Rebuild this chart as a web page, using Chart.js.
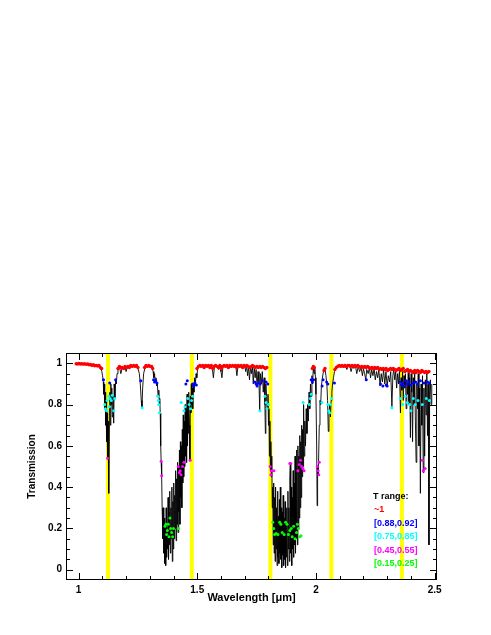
<!DOCTYPE html>
<html>
<head>
<meta charset="utf-8">
<script src="https://cdn.jsdelivr.net/npm/chart.js@4.4.1/dist/chart.umd.min.js"></script>
<style>
  html, body { margin: 0; padding: 0; background: #ffffff; }
  #chart { display: block; }
</style>
</head>
<body>
<canvas id="chart" width="491" height="635"></canvas>
<script>
// atmospheric transmission spectrum, [wavelength um, transmission]
const spectrum = [
  [0.988,0.997],[0.995,0.998],[1.005,0.997],[1.015,0.996],[1.025,0.997],[1.035,0.995],[1.045,0.993],[1.055,0.99],
  [1.065,0.992],[1.072,0.986],[1.08,0.99],[1.087,0.983],[1.093,0.975],[1.098,0.96],
  [1.101,0.94],[1.104,0.91],[1.106,0.85],[1.108,0.9],[1.11,0.78],[1.112,0.86],[1.114,0.7],[1.116,0.82],[1.118,0.62],
  [1.12,0.76],[1.122,0.54],[1.124,0.72],[1.126,0.6],[1.128,0.37],[1.13,0.78],[1.132,0.86],[1.134,0.7],[1.136,0.9],
  [1.138,0.8],[1.14,0.88],[1.142,0.74],[1.145,0.84],[1.148,0.71],[1.15,0.9],[1.153,0.83],[1.156,0.92],[1.159,0.9],[1.162,0.95],
  [1.166,0.97],[1.172,0.985],[1.178,0.95],[1.184,0.98],[1.19,0.97],[1.196,0.985],[1.2,0.96],[1.206,0.985],[1.212,0.98],
  [1.22,0.99],[1.228,0.985],[1.235,0.99],[1.242,0.985],[1.25,0.975],[1.256,0.95],[1.26,0.9],[1.264,0.82],[1.267,0.785],
  [1.27,0.88],[1.274,0.95],[1.28,0.98],[1.286,0.99],[1.292,0.985],[1.298,0.99],[1.304,0.985],[1.31,0.975],
  [1.314,0.96],[1.317,0.93],[1.32,0.95],[1.323,0.91],[1.326,0.93],[1.329,0.89],[1.332,0.9],[1.335,0.84],[1.338,0.87],
  [1.34,0.8],[1.342,0.83],[1.344,0.76],[1.346,0.6],[1.348,0.52],[1.35,0.455],[1.352,0.3],
  [1.355,0.15],[1.357,0.3],[1.359,0.08],[1.361,0.25],[1.363,0.03],[1.365,0.22],[1.367,0.02],[1.369,0.3],[1.371,0.06],
  [1.373,0.18],[1.375,0.1],[1.377,0.35],[1.379,0.05],[1.381,0.28],[1.383,0.12],[1.385,0.38],[1.387,0.08],[1.389,0.3],
  [1.391,0.15],[1.393,0.4],[1.395,0.04],[1.397,0.33],[1.399,0.1],[1.401,0.42],[1.403,0.15],[1.405,0.36],[1.407,0.2],
  [1.409,0.48],[1.411,0.14],[1.413,0.44],[1.415,0.22],[1.417,0.52],[1.419,0.18],[1.421,0.5],[1.423,0.28],[1.425,0.58],
  [1.427,0.22],[1.429,0.62],[1.431,0.35],[1.433,0.6],[1.435,0.3],[1.437,0.68],[1.439,0.42],[1.441,0.75],[1.443,0.45],
  [1.445,0.72],[1.447,0.5],[1.449,0.8],[1.451,0.55],[1.453,0.78],[1.455,0.52],[1.457,0.85],[1.459,0.6],[1.461,0.82],
  [1.463,0.66],[1.465,0.86],[1.467,0.7],[1.469,0.53],[1.471,0.84],[1.473,0.76],[1.475,0.9],[1.477,0.8],[1.479,0.88],
  [1.481,0.78],[1.483,0.9],[1.486,0.86],[1.489,0.93],[1.492,0.9],[1.495,0.95],[1.498,0.93],[1.501,0.97],[1.504,0.98],
  [1.51,0.99],[1.516,0.985],[1.522,0.99],[1.528,0.98],[1.534,0.99],[1.54,0.985],[1.546,0.99],[1.552,0.98],[1.558,0.99],
  [1.564,0.97],[1.568,0.93],[1.572,0.98],[1.578,0.99],[1.584,0.985],[1.59,0.97],[1.596,0.99],[1.6,0.96],[1.604,0.93],
  [1.608,0.98],[1.614,0.99],[1.62,0.985],[1.626,0.99],[1.632,0.975],[1.638,0.99],[1.644,0.985],[1.65,0.99],[1.656,0.985],
  [1.662,0.99],[1.667,0.94],[1.672,0.99],[1.678,0.985],[1.684,0.99],[1.69,0.98],[1.696,0.99],[1.7,0.985],
  [1.704,0.96],[1.708,0.99],[1.712,0.94],[1.716,0.985],[1.72,0.92],[1.724,0.98],[1.728,0.95],[1.732,0.99],[1.736,0.9],
  [1.74,0.98],[1.744,0.93],[1.748,0.97],[1.752,0.89],[1.756,0.96],[1.76,0.91],[1.763,0.77],[1.766,0.95],[1.77,0.9],
  [1.774,0.96],[1.778,0.86],[1.782,0.93],[1.785,0.8],[1.787,0.66],[1.789,0.9],[1.792,0.84],[1.795,0.78],[1.798,0.85],
  [1.8,0.7],[1.802,0.78],[1.804,0.55],[1.806,0.72],[1.808,0.48],[1.81,0.62],[1.812,0.45],[1.814,0.55],[1.816,0.3],
  [1.818,0.4],[1.82,0.12],[1.822,0.42],[1.824,0.08],[1.826,0.35],[1.828,0.04],[1.83,0.4],[1.832,0.1],[1.834,0.3],
  [1.836,0.02],[1.838,0.38],[1.84,0.06],[1.842,0.26],[1.844,0.03],[1.846,0.34],[1.848,0.08],[1.85,0.4],[1.852,0.05],
  [1.854,0.3],[1.856,0.01],[1.858,0.28],[1.86,0.07],[1.862,0.36],[1.864,0.02],[1.866,0.25],[1.868,0.05],[1.87,0.33],
  [1.872,0.01],[1.874,0.22],[1.876,0.06],[1.878,0.3],[1.88,0.02],[1.882,0.38],[1.884,0.1],[1.886,0.3],[1.888,0.04],
  [1.89,0.45],[1.892,0.51],[1.894,0.08],[1.896,0.4],[1.898,0.02],[1.9,0.35],[1.902,0.1],[1.904,0.48],[1.906,0.06],
  [1.908,0.42],[1.91,0.12],[1.912,0.55],[1.914,0.08],[1.916,0.5],[1.918,0.15],[1.92,0.58],[1.922,0.12],[1.924,0.6],
  [1.926,0.2],[1.928,0.55],[1.93,0.25],[1.932,0.65],[1.934,0.3],[1.936,0.62],[1.938,0.35],[1.94,0.7],[1.942,0.45],
  [1.944,0.68],[1.946,0.5],[1.948,0.8],[1.95,0.55],
  [1.953,0.72],[1.956,0.6],[1.959,0.78],[1.962,0.66],[1.965,0.8],[1.968,0.72],[1.971,0.86],[1.974,0.78],[1.977,0.9],
  [1.98,0.84],[1.983,0.94],[1.986,0.9],[1.989,0.98],[1.992,0.95],[1.995,0.98],[1.998,0.93],[2.0,0.85],[2.003,0.6],
  [2.005,0.31],[2.007,0.5],[2.009,0.46],[2.011,0.52],[2.014,0.7],[2.017,0.82],[2.02,0.8],[2.023,0.89],[2.026,0.92],
  [2.03,0.95],[2.034,0.97],[2.038,0.975],[2.042,0.94],[2.046,0.9],[2.049,0.82],[2.052,0.67],[2.055,0.76],[2.058,0.8],
  [2.061,0.74],[2.064,0.82],[2.067,0.86],[2.07,0.9],[2.074,0.93],[2.078,0.96],[2.083,0.975],[2.088,0.98],[2.094,0.985],[2.1,0.99],
  [2.106,0.985],[2.112,0.99],[2.118,0.98],[2.124,0.99],[2.13,0.97],[2.136,0.985],[2.142,0.99],[2.148,0.96],[2.154,0.985],
  [2.16,0.975],[2.166,0.99],[2.172,0.95],[2.178,0.985],[2.184,0.96],[2.19,0.98],[2.196,0.94],[2.2,0.975],[2.205,0.95],
  [2.21,0.92],[2.214,0.97],[2.22,0.95],[2.225,0.98],[2.23,0.93],[2.235,0.97],[2.24,0.94],[2.245,0.975],[2.25,0.92],
  [2.255,0.96],[2.26,0.93],[2.265,0.97],[2.27,0.89],[2.275,0.95],[2.28,0.91],[2.285,0.97],[2.29,0.9],[2.295,0.96],
  [2.3,0.89],[2.305,0.94],[2.31,0.91],[2.315,0.96],[2.32,0.79],[2.324,0.94],[2.328,0.97],
  [2.332,0.92],[2.336,0.96],[2.34,0.88],[2.344,0.95],[2.348,0.9],[2.352,0.97],[2.356,0.76],[2.359,0.93],[2.362,0.87],
  [2.365,0.96],[2.368,0.82],[2.371,0.94],[2.374,0.88],[2.377,0.95],[2.38,0.78],[2.383,0.92],[2.386,0.85],[2.389,0.96],
  [2.392,0.8],[2.395,0.93],[2.398,0.64],[2.401,0.95],[2.404,0.86],[2.407,0.62],[2.41,0.93],[2.413,0.8],[2.416,0.96],
  [2.419,0.72],[2.422,0.52],[2.425,0.9],[2.428,0.78],[2.431,0.95],[2.434,0.6],[2.437,0.88],[2.44,0.37],[2.443,0.9],
  [2.446,0.7],[2.449,0.94],[2.452,0.47],[2.455,0.88],[2.458,0.55],[2.461,0.92],[2.464,0.75],[2.467,0.95],[2.47,0.65],
  [2.473,0.9],[2.476,0.12],[2.479,0.85],[2.482,0.92],[2.485,0.8],[2.488,0.9]
];

// points picked out by transmission range
const pointsNear1 = [
  [0.99,0.998],[0.996,0.997],[1.002,0.999],[1.008,0.997],[1.014,0.998],[1.02,0.996],[1.026,0.998],[1.032,0.995],
  [1.038,0.997],[1.044,0.993],[1.05,0.995],[1.056,0.99],[1.062,0.993],[1.068,0.988],[1.074,0.99],[1.08,0.987],
  [1.086,0.99],[1.092,0.98],[1.097,0.975],
  [1.166,0.975],[1.172,0.985],[1.178,0.98],[1.184,0.98],[1.19,0.975],[1.196,0.985],[1.202,0.98],[1.208,0.985],
  [1.214,0.98],[1.22,0.99],[1.226,0.985],[1.232,0.99],[1.238,0.985],[1.244,0.99],[1.25,0.98],
  [1.278,0.98],[1.284,0.99],[1.29,0.985],[1.296,0.99],[1.302,0.985],[1.308,0.985],[1.312,0.975],
  [1.499,0.975],[1.505,0.985],[1.511,0.99],[1.517,0.985],[1.523,0.99],[1.529,0.98],[1.535,0.99],[1.541,0.985],
  [1.547,0.99],[1.553,0.98],[1.559,0.99],[1.565,0.975],[1.571,0.985],[1.577,0.99],[1.583,0.985],[1.589,0.98],
  [1.595,0.99],[1.601,0.975],[1.607,0.985],[1.613,0.99],[1.619,0.985],[1.625,0.99],[1.631,0.98],[1.637,0.99],
  [1.643,0.985],[1.649,0.99],[1.655,0.985],[1.661,0.99],[1.667,0.98],[1.673,0.99],[1.679,0.985],[1.685,0.99],
  [1.691,0.98],[1.697,0.99],[1.703,0.985],[1.709,0.99],[1.715,0.985],[1.721,0.98],[1.727,0.985],[1.733,0.99],
  [1.739,0.985],[1.745,0.98],[1.751,0.985],[1.757,0.98],[1.763,0.985],[1.769,0.98],[1.775,0.985],[1.781,0.98],
  [1.787,0.975],[1.793,0.98],
  [1.985,0.975],[1.989,0.985],[1.993,0.98],[2.034,0.965],[2.038,0.975],
  [2.08,0.97],[2.086,0.98],[2.092,0.985],[2.098,0.99],[2.104,0.985],[2.11,0.99],[2.116,0.985],[2.122,0.99],
  [2.128,0.985],[2.134,0.99],[2.14,0.99],[2.146,0.985],[2.152,0.99],[2.158,0.985],[2.164,0.99],[2.17,0.985],
  [2.176,0.99],[2.182,0.985],[2.188,0.98],[2.194,0.985],[2.2,0.98],[2.206,0.985],[2.212,0.98],[2.218,0.985],
  [2.224,0.98],[2.23,0.975],[2.236,0.98],[2.242,0.975],[2.248,0.98],[2.254,0.975],[2.26,0.98],[2.266,0.97],
  [2.272,0.975],[2.278,0.97],[2.284,0.975],[2.29,0.97],[2.296,0.975],[2.302,0.965],[2.308,0.97],[2.314,0.975],
  [2.32,0.97],[2.326,0.975],[2.332,0.97],[2.338,0.965],[2.344,0.97],[2.35,0.975],[2.356,0.965],[2.362,0.97],
  [2.368,0.975],[2.374,0.96],[2.38,0.965],[2.386,0.97],[2.392,0.96],[2.398,0.965],[2.404,0.96],[2.41,0.955],
  [2.416,0.965],[2.422,0.955],[2.428,0.965],[2.434,0.96],[2.44,0.955],[2.446,0.965],[2.452,0.96],[2.458,0.955],
  [2.464,0.96],[2.47,0.955],[2.476,0.96]
];
const points088 = [
  [1.105,0.92],[1.131,0.905],[1.156,0.92],[1.262,0.915],[1.316,0.92],[1.32,0.91],[1.325,0.915],[1.33,0.905],
  [1.452,0.9],[1.458,0.915],[1.48,0.9],[1.484,0.89],[1.49,0.905],[1.496,0.895],[1.742,0.91],[1.748,0.9],
  [1.752,0.89],[1.758,0.905],[1.765,0.9],[1.774,0.915],[1.79,0.91],[1.797,0.9],[1.98,0.92],[1.985,0.91],
  [1.99,0.92],[2.026,0.89],[2.03,0.92],[2.045,0.91],[2.05,0.9],[2.078,0.905],[2.212,0.92],[2.272,0.9],
  [2.282,0.89],[2.296,0.895],[2.3,0.89],[2.355,0.91],[2.36,0.895],[2.364,0.905],[2.37,0.89],[2.378,0.915],
  [2.385,0.9],[2.392,0.91],[2.4,0.895],[2.41,0.905],[2.42,0.91],[2.428,0.9],[2.44,0.915],[2.455,0.905],
  [2.47,0.91],[2.478,0.905]
];
const points075 = [
  [1.11,0.8],[1.113,0.78],[1.118,0.77],[1.12,0.82],[1.127,0.84],[1.13,0.79],[1.133,0.83],[1.138,0.82],
  [1.142,0.845],[1.148,0.77],[1.152,0.83],[1.268,0.785],[1.333,0.84],[1.336,0.82],[1.338,0.8],[1.341,0.76],
  [1.432,0.81],[1.444,0.77],[1.448,0.79],[1.46,0.83],[1.466,0.8],[1.472,0.78],[1.476,0.82],[1.48,0.84],
  [1.764,0.77],[1.785,0.84],[1.79,0.81],[1.794,0.78],[1.8,0.8],[1.946,0.81],[1.972,0.8],[1.976,0.83],
  [1.98,0.85],[2.025,0.81],[2.05,0.8],[2.054,0.77],[2.058,0.76],[2.062,0.8],[2.066,0.83],[2.32,0.785],
  [2.355,0.83],[2.366,0.8],[2.376,0.84],[2.385,0.81],[2.395,0.8],[2.4,0.77],[2.41,0.83],[2.418,0.8],
  [2.43,0.82],[2.448,0.8],[2.465,0.83],[2.478,0.82]
];
const points045 = [
  [1.122,0.54],[1.348,0.525],[1.35,0.455],[1.42,0.5],[1.425,0.47],[1.428,0.48],[1.432,0.46],[1.438,0.5],
  [1.444,0.52],[1.47,0.53],[1.807,0.5],[1.81,0.46],[1.812,0.48],[1.823,0.48],[1.89,0.515],[1.894,0.515],
  [1.924,0.48],[1.93,0.51],[1.935,0.53],[1.94,0.5],[1.945,0.49],[1.95,0.48],[2.006,0.5],[2.009,0.48],
  [2.012,0.46],[2.014,0.52],[2.448,0.53],[2.452,0.48],[2.46,0.49]
];
const points015 = [
  [1.364,0.21],[1.368,0.22],[1.371,0.17],[1.374,0.19],[1.378,0.22],[1.381,0.16],[1.385,0.25],[1.388,0.2],
  [1.392,0.18],[1.396,0.16],[1.4,0.2],[1.42,0.2],
  [1.818,0.23],[1.822,0.2],[1.826,0.17],[1.832,0.175],[1.84,0.17],[1.847,0.23],[1.852,0.22],[1.858,0.18],
  [1.866,0.17],[1.872,0.23],[1.878,0.22],[1.884,0.17],[1.89,0.19],[1.896,0.2],[1.9,0.16],[1.906,0.21],
  [1.912,0.15],[1.918,0.18],[1.922,0.22],[1.926,0.2],[1.932,0.16],[1.937,0.165]
];

// yellow marker wavelengths
const markerLines = [1.124, 1.477, 1.808, 2.065, 2.362];

const legendTitle = 'T range:';
const legendLabels = ['~1', '[0.88,0.92]', '[0.75,0.85]', '[0.45,0.55]', '[0.15,0.25]'];
const legendColors = ['#ff0000', '#0000ff', '#00ffff', '#ff00ff', '#00ff00'];

const xTickValues = [1, 1.5, 2, 2.5];
const xTickLabels = ['1', '1.5', '2', '2.5'];
const yTickValues = [0, 0.2, 0.4, 0.6, 0.8, 1];
const yTickLabels = ['0', '0.2', '0.4', '0.6', '0.8', '1'];

const toXY = (arr) => arr.map(([x, y]) => ({ x, y }));
const labelFont = { family: 'Liberation Sans', size: 10, weight: 'bold' };

const markerPlugin = {
  id: 'markers',
  beforeDatasetsDraw(chart) {
    const { ctx, chartArea, scales } = chart;
    ctx.save();
    ctx.strokeStyle = '#ffff00';
    ctx.lineWidth = 4;
    markerLines.forEach((w) => {
      const px = scales.x.getPixelForValue(w);
      ctx.beginPath();
      ctx.moveTo(px, chartArea.top);
      ctx.lineTo(px, chartArea.bottom);
      ctx.stroke();
    });
    ctx.restore();
  }
};

const framePlugin = {
  id: 'frame',
  afterDraw(chart) {
    const { ctx, chartArea: a, scales } = chart;
    ctx.save();
    ctx.strokeStyle = '#000';
    ctx.lineWidth = 1;
    ctx.strokeRect(a.left + 0.5, a.top + 0.5, a.right - a.left - 1, a.bottom - a.top - 1);
    ctx.beginPath();
    for (let i = 10; i <= 25; i++) {
      const v = i / 10;
      const len = i % 5 === 0 ? 7 : 4;
      const px = Math.round(scales.x.getPixelForValue(v)) + 0.5;
      ctx.moveTo(px, a.bottom); ctx.lineTo(px, a.bottom - len);
      ctx.moveTo(px, a.top); ctx.lineTo(px, a.top + len);
    }
    for (let i = 0; i <= 21; i++) {
      const v = i * 0.05;
      const len = i % 4 === 0 ? 7 : 4;
      const py = Math.round(scales.y.getPixelForValue(v)) + 0.5;
      ctx.moveTo(a.left, py); ctx.lineTo(a.left + len, py);
      ctx.moveTo(a.right, py); ctx.lineTo(a.right - len, py);
    }
    ctx.stroke();

    // range legend inside the plot
    ctx.textAlign = 'left';
    ctx.textBaseline = 'middle';
    ctx.font = 'bold 9px "Liberation Sans"';
    ctx.fillStyle = '#000';
    ctx.fillText(legendTitle, 373, 497);
    legendLabels.forEach((label, i) => {
      ctx.fillStyle = legendColors[i];
      ctx.fillText(label, 374, 510 + i * 13.5);
    });
    ctx.restore();
  }
};

function pointSet(data, color, order, radius) {
  return {
    type: 'scatter',
    data: toXY(data),
    backgroundColor: color,
    borderColor: color,
    borderWidth: 0,
    pointRadius: radius,
    showLine: false,
    order
  };
}

new Chart(document.getElementById('chart'), {
  type: 'line',
  data: {
    datasets: [
      {
        data: toXY(spectrum),
        borderColor: 'rgba(0,0,0,0.9)',
        borderWidth: 1,
        pointRadius: 0,
        tension: 0,
        fill: false,
        order: 6
      },
      pointSet(pointsNear1, '#ff0000', 5, 1.7),
      pointSet(points088, '#0000ff', 4, 1.5),
      pointSet(points075, '#00ffff', 3, 1.5),
      pointSet(points045, '#ff00ff', 2, 1.5),
      pointSet(points015, '#00ff00', 1, 1.5)
    ]
  },
  options: {
    responsive: false,
    devicePixelRatio: 1,
    animation: false,
    layout: { padding: { left: 0, top: 353, right: 54, bottom: 0 } },
    plugins: { legend: { display: false }, tooltip: { enabled: false } },
    scales: {
      x: {
        type: 'linear',
        min: 0.947,
        max: 2.51,
        afterBuildTicks(scale) { scale.ticks = xTickValues.map((value) => ({ value })); },
        afterFit(scale) { scale.height = 55; },
        grid: { display: false, drawTicks: false },
        border: { display: false },
        ticks: {
          color: '#000',
          font: labelFont,
          padding: 4,
          maxRotation: 0,
          autoSkip: false,
          callback: (value) => xTickLabels[xTickValues.indexOf(value)]
        },
        title: {
          display: true,
          text: 'Wavelength [μm]',
          color: '#000',
          font: { family: 'Liberation Sans', size: 11, weight: 'bold' },
          padding: { top: 0, bottom: 30 }
        }
      },
      y: {
        type: 'linear',
        min: -0.05,
        max: 1.05,
        afterBuildTicks(scale) { scale.ticks = yTickValues.map((value) => ({ value })); },
        afterFit(scale) { scale.width = 66; },
        grid: { display: false, drawTicks: false },
        border: { display: false },
        ticks: {
          color: '#000',
          font: labelFont,
          padding: 4,
          autoSkip: false,
          callback: (value) => yTickLabels[yTickValues.indexOf(value)]
        },
        title: {
          display: true,
          text: 'Transmission',
          color: '#000',
          font: labelFont,
          padding: { top: 26, bottom: 0 }
        }
      }
    }
  },
  plugins: [markerPlugin, framePlugin]
});
</script>
</body>
</html>
